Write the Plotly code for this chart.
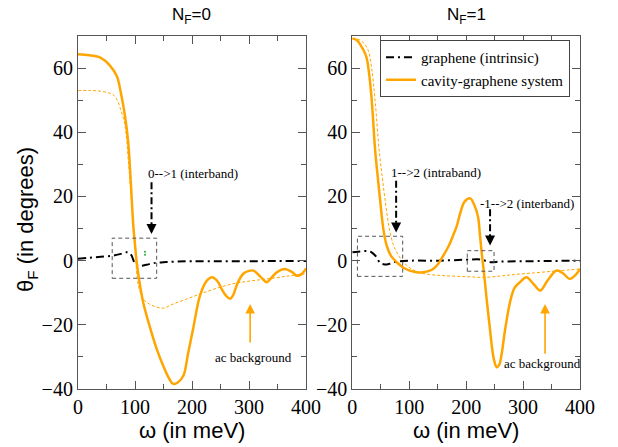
import plotly.graph_objects as go

# ---------------- data ----------------
# N_F = 0 : cavity-graphene system (solid orange)
w0_cav = [0, 20, 40, 55, 68, 75, 82.5, 88, 91, 94, 97, 100, 103, 110, 115, 125, 138, 150, 160,
          167, 175, 185, 193, 202, 214, 225, 235, 245, 252, 260, 267, 272, 280, 290, 300, 308,
          320, 331, 340, 349, 363, 375, 384, 392, 400]
th0_cav = [64.3, 64.0, 63.2, 61.0, 57.5, 52.5, 45.0, 37.0, 29.5, 20.0, 11.0, 5.0, -0.5, -9.0, -13.5,
           -20.0, -27.5, -33.0, -36.8, -38.4, -38.0, -35.8, -29.0, -21.2, -10.9, -6.5, -5.2, -6.5,
           -8.8, -11.0, -11.9, -10.8, -7.0, -4.1, -3.2, -3.1, -5.0, -6.7, -5.2, -3.6, -2.6, -3.5,
           -4.7, -4.2, -2.4]
# N_F = 0 : ac background (thin dashed orange)
w0_bg = [0, 20, 40, 55, 61, 68, 75, 82.5, 89, 92, 96, 100, 106, 115, 125, 138, 150, 167, 190, 214,
         240, 272, 300, 331, 365, 400]
th0_bg = [53.0, 53.0, 52.8, 52.2, 51.8, 50.3, 47.0, 42.0, 29.5, 23.0, 14.0, 5.0, -7.8, -12.0, -13.5,
          -14.5, -14.8, -13.5, -12.0, -10.4, -8.8, -7.2, -6.4, -5.7, -4.9, -4.1]
# N_F = 0 : graphene (intrinsic) (black dash-dot)
w0_gr = [0, 20, 40, 60, 75, 85, 90, 94, 97, 100, 104, 110, 120, 132, 150, 170, 200, 250, 300, 350, 400]
th0_gr = [0.6, 0.9, 1.2, 1.5, 2.1, 2.6, 2.4, 1.6, 0.2, -1.0, -1.5, -1.6, -1.3, -0.8, -0.5, -0.3,
          -0.2, -0.2, -0.2, -0.1, -0.1]
# tiny green marks near the N_F = 0 transition
w0_green = [117.5, 117.5]
th0_green = [1.8, 2.8]

# N_F = 1 : cavity-graphene system
w1_cav = [0, 8, 15, 20, 25, 29, 34, 40, 45, 48.7, 54.5, 60.4, 68, 78, 90, 101, 115, 125, 135, 142,
          150, 160, 170, 177, 183, 190, 197, 207, 214, 221, 224, 227, 232, 236, 241, 245, 249,
          253.7, 258, 262, 268, 277, 285, 294.6, 306, 318, 330, 343, 359, 371, 382, 392, 400]
th1_cav = [69.2, 68.7, 67.0, 65.5, 63.3, 59.0, 50.3, 34.7, 25.5, 19.2, 9.9, 4.7, 1.5, -0.5, -2.2,
           -3.1, -3.7, -3.6, -3.2, -2.6, -1.2, 1.6, 4.8, 7.8, 10.5, 15.0, 18.3, 19.4, 17.5, 13.5,
           8.5, 3.0, -5.0, -12.0, -20.0, -26.4, -31.0, -33.2, -32.5, -29.5, -22.0, -13.0, -8.5,
           -6.7, -5.2, -7.2, -9.3, -6.2, -3.1, -4.1, -5.7, -4.5, -2.6]
# N_F = 1 : ac background
w1_bg = [0, 10, 20, 28, 34, 40, 47, 52, 57.4, 65, 72, 78, 90, 104, 120, 140, 163, 200, 233, 260,
         280, 320, 360, 400]
th1_bg = [69.2, 69.0, 67.8, 65.5, 60.0, 50.0, 34.7, 27.0, 19.2, 10.0, 5.0, 2.6, -0.5, -2.6, -3.8,
          -4.4, -4.7, -5.0, -5.2, -4.8, -4.4, -3.8, -3.2, -2.6]
# N_F = 1 : graphene (intrinsic)
w1_gr = [0, 10, 22.7, 30, 34, 38, 43, 48.7, 57, 65, 75, 90, 105, 150, 201, 220, 227, 233, 239, 245,
         260, 300, 350, 400]
th1_gr = [2.6, 2.8, 3.0, 2.9, 2.6, 2.0, 1.0, -0.7, -1.2, -1.0, -0.4, -0.1, 0.0, 0.0, 0.3, 0.4, 0.3,
          0.0, -0.3, -0.5, -0.3, -0.2, -0.1, 0.0]

x_ticks = [0, 100, 200, 300, 400]
y_ticks = [-40, -20, 0, 20, 40, 60]
panel_titles = ["N<sub>F</sub>=0", "N<sub>F</sub>=1"]
legend_names = ["graphene (intrinsic)", "cavity-graphene system"]

ORANGE = "#FFA500"
SERIF = "Liberation Serif"
SANS = "Liberation Sans"
FRAME = "#555555"
DASHDOT = "8px,4px,2px,4px"

fig = go.Figure()


def add_panel(xa, ya, w_cav, t_cav, w_bg, t_bg, w_gr, t_gr, show_leg):
    fig.add_trace(go.Scatter(x=w_bg, y=t_bg, mode="lines", xaxis=xa, yaxis=ya,
                             line=dict(color=ORANGE, width=1, dash="3px,2px", shape="spline"),
                             showlegend=False, hoverinfo="skip"))
    fig.add_trace(go.Scatter(x=w_gr, y=t_gr, mode="lines", xaxis=xa, yaxis=ya,
                             name=legend_names[0],
                             line=dict(color="black", width=2, dash=DASHDOT, shape="spline"),
                             showlegend=show_leg, legendrank=1))
    fig.add_trace(go.Scatter(x=w_cav, y=t_cav, mode="lines", xaxis=xa, yaxis=ya,
                             name=legend_names[1],
                             line=dict(color=ORANGE, width=2.5, shape="spline"),
                             showlegend=show_leg, legendrank=2))


add_panel("x", "y", w0_cav, th0_cav, w0_bg, th0_bg, w0_gr, th0_gr, False)
add_panel("x2", "y2", w1_cav, th1_cav, w1_bg, th1_bg, w1_gr, th1_gr, True)
fig.add_trace(go.Scatter(x=w0_green, y=th0_green, mode="markers", xaxis="x", yaxis="y",
                         marker=dict(color="#22aa22", size=2), showlegend=False, hoverinfo="skip"))

W, H = 618, 447
xdom = [[78 / W, 306 / W], [352.3 / W, 580 / W]]
ydom = [1 - 389 / H, 1 - 36 / H]

axis_common = dict(showgrid=False, zeroline=False, showline=True, linecolor=FRAME, linewidth=1.2,
                   mirror="allticks", ticks="inside", ticklen=8, tickwidth=1.2, tickcolor=FRAME,
                   automargin=False,
                   tickfont=dict(family=SERIF, size=20, color="black"))

for i, suf in enumerate(["", "2"]):
    fig.layout["xaxis" + suf] = dict(axis_common, domain=xdom[i], range=[0, 400],
                                     tickvals=x_ticks, anchor="y" + suf,
                                     minor=dict(ticks="inside", dtick=50, ticklen=5,
                                                tickwidth=1.2, tickcolor=FRAME))
    fig.layout["yaxis" + suf] = dict(axis_common, domain=ydom, range=[-40, 70],
                                     tickvals=y_ticks, anchor="x" + suf,
                                     minor=dict(ticks="inside", dtick=10, ticklen=5,
                                                tickwidth=1.2, tickcolor=FRAME))

# ---------- decorations: boxes, arrows, labels ----------
shapes = []
def box(xr, yr, x0, x1, y0, y1):
    shapes.append(dict(type="rect", xref=xr, yref=yr, x0=x0, x1=x1, y0=y0, y1=y1,
                       line=dict(color="#555555", width=1, dash="4px,3px")))

box("x", "y", 60, 138, -5.5, 7)
box("x2", "y2", 9, 88.5, -4.9, 7.6)
box("x2", "y2", 202, 249, -3.3, 3.1)

annotations = []
def black_arrow(xr, yr, x, ytop, ytip):
    shapes.append(dict(type="line", xref=xr, yref=yr, x0=x, x1=x, y0=ytop, y1=ytip + 2.5,
                       line=dict(color="black", width=2, dash="7px,3px,2px,3px")))
    annotations.append(dict(xref=xr, yref=yr, x=x, y=ytip, ax=0, ay=-9, text="",
                            showarrow=True, arrowhead=2, arrowsize=1, arrowwidth=2,
                            arrowcolor="black"))

black_arrow("x", "y", 129, 24.4, 8.3)
black_arrow("x2", "y2", 77, 24.9, 8.8)
black_arrow("x2", "y2", 242, 16, 4.7)

def text(xr, yr, x, y, s, anchor="left"):
    annotations.append(dict(xref=xr, yref=yr, x=x, y=y, text=s, showarrow=False,
                            xanchor=anchor, yanchor="middle",
                            font=dict(family=SERIF, size=13, color="black")))

text("x", "y", 120, 27.2, "0-->1 (interband)")
text("x2", "y2", 64, 27.5, "1-->2 (intraband)")
text("x2", "y2", 220, 17.8, "-1-->2 (interband)")
text("x", "y", 308, -30.2, "ac background", "center")
text("x2", "y2", 334, -32, "ac background", "center")

def orange_arrow(xr, yr, x, ytail, ytip):
    annotations.append(dict(xref=xr, yref=yr, x=x, y=ytip, axref=xr, ayref=yr, ax=x, ay=ytail,
                            text="", showarrow=True, arrowhead=2, arrowsize=1.2, arrowwidth=1.6,
                            arrowcolor=ORANGE))

orange_arrow("x", "y", 302, -26, -13.5)
orange_arrow("x2", "y2", 338.6, -29.5, -13.5)

# panel titles & axis titles
for i in range(2):
    xc = (xdom[i][0] + xdom[i][1]) / 2
    annotations.append(dict(xref="paper", yref="paper", x=xc, y=1 - 16 / H, text=panel_titles[i],
                            showarrow=False, xanchor="center", yanchor="middle",
                            font=dict(family=SANS, size=17, color="black")))
    annotations.append(dict(xref="paper", yref="paper", x=xc, y=1 - 430 / H, text="ω (in meV)",
                            showarrow=False, xanchor="center", yanchor="middle",
                            font=dict(family=SANS, size=22, color="black")))
annotations.append(dict(xref="paper", yref="paper", x=27 / W, y=1 - 220 / H,
                        text="θ<sub>F</sub> (in degrees)", textangle=-90, showarrow=False,
                        xanchor="center", yanchor="middle",
                        font=dict(family=SANS, size=22, color="black")))

fig.update_layout(
    width=W, height=H, margin=dict(l=0, r=0, t=0, b=0, autoexpand=False),
    paper_bgcolor="white", plot_bgcolor="white",
    shapes=shapes, annotations=annotations,
    legend=dict(x=380 / W, y=1 - 40 / H, xanchor="left", yanchor="top",
                bgcolor="white", bordercolor="#444444", borderwidth=1,
                font=dict(family=SERIF, size=15, color="black"),
                tracegroupgap=0, itemwidth=30),
)

fig.write_html("out.html", config={"displayModeBar": False},
               post_script="document.body.style.margin='0';document.body.style.overflow='hidden';")
